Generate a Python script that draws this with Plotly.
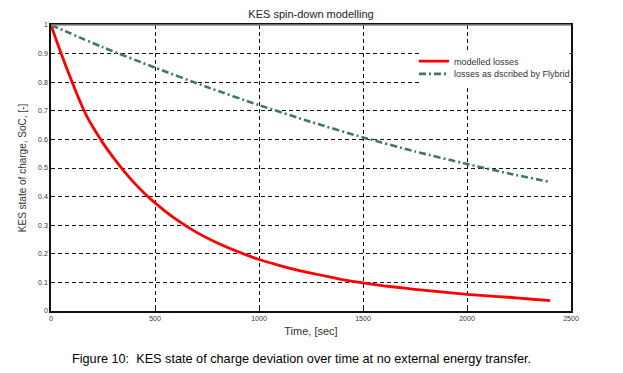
import plotly.graph_objects as go

# Data
t_model = [0, 25, 50, 75, 100, 125, 150, 175, 200, 250, 300, 350, 400, 450, 500, 600, 700, 800, 900,
           1000, 1100, 1200, 1300, 1400, 1500, 1600, 1700, 1800, 1900, 2000, 2100, 2200, 2300, 2400]
soc_model = [1.0, 0.948, 0.898, 0.850, 0.803, 0.758, 0.715, 0.677, 0.645, 0.587, 0.536, 0.490, 0.448,
             0.411, 0.378, 0.321, 0.275, 0.238, 0.207, 0.180, 0.159, 0.140, 0.125, 0.110, 0.098,
             0.088, 0.080, 0.072, 0.065, 0.058, 0.053, 0.048, 0.042, 0.036]

t_flybrid = [0, 250, 500, 750, 1000, 1250, 1500, 1750, 2000, 2200, 2400]
soc_flybrid = [1.0, 0.922, 0.851, 0.783, 0.72, 0.661, 0.607, 0.558, 0.514, 0.481, 0.451]

x_ticks = [0, 500, 1000, 1500, 2000, 2500]
y_ticks = [0, 0.1, 0.2, 0.3, 0.4, 0.5, 0.6, 0.7, 0.8, 0.9, 1]
y_tick_labels = ["0", "0.1", "0.2", "0.3", "0.4", "0.5", "0.6", "0.7", "0.8", "0.9", "1"]

title = "KES spin-down modelling"
x_label = "Time, [sec]"
y_label = "KES state of charge, SoC, [-]"
caption = "Figure 10:  KES state of charge deviation over time at no external energy transfer."

font_main = "Liberation Sans, Arial, sans-serif"

fig = go.Figure()
fig.add_trace(go.Scatter(
    x=t_model, y=soc_model, mode="lines", name="modelled losses", legend="legend",
    line=dict(color="#ff0000", width=2.8, shape="spline", smoothing=0.3),
))
fig.add_trace(go.Scatter(
    x=t_flybrid, y=soc_flybrid, mode="lines", name="losses as dscribed by Flybrid", legend="legend2",
    line=dict(color="#3f7a5c", width=2.6, dash="7px,3px,2px,3px", shape="spline", smoothing=0.6),
))

legend_common = dict(
    xanchor="left", yanchor="middle", bgcolor="rgba(0,0,0,0)", borderwidth=0,
    font=dict(size=9, color="#333", family=font_main), itemwidth=30,
)

# The page body adds an 8px offset, so the figure is sized/margined to compensate.
fig.update_layout(
    width=615, height=365,
    margin=dict(l=43, r=52, t=17, b=62, autoexpand=False),
    paper_bgcolor="white", plot_bgcolor="white",
    font=dict(family=font_main, color="#222"),
    showlegend=True,
    legend=dict(x=0.698, y=0.874, **legend_common),
    legend2=dict(x=0.698, y=0.829, **legend_common),
    xaxis=dict(
        range=[0, 2500], tickvals=x_ticks, ticktext=[str(v) for v in x_ticks],
        showgrid=True, gridcolor="#111", gridwidth=1, griddash="4px,3px",
        zeroline=False, showline=True, linecolor="#111", linewidth=1.5, mirror=True,
        ticks="inside", ticklen=3, tickcolor="#111",
        tickfont=dict(size=7, color="#333"),
        title=dict(text=x_label, font=dict(size=11, color="#333"), standoff=6),
    ),
    yaxis=dict(
        range=[0, 1], tickvals=y_ticks, ticktext=y_tick_labels,
        showgrid=True, gridcolor="#111", gridwidth=1, griddash="4px,3px",
        zeroline=False, showline=True, linecolor="#111", linewidth=1.5, mirror=True,
        ticks="inside", ticklen=3, tickcolor="#111",
        tickfont=dict(size=7, color="#333"),
        title=dict(text=y_label, font=dict(size=10, color="#333"), standoff=10),
    ),
    title=dict(text=title, x=0.5, xref="paper", xanchor="center",
               y=1 - 2 / 365, yref="container", yanchor="top", pad=dict(t=0, b=0),
               font=dict(size=11, color="#222")),
)

# grey top border like the reference
fig.add_shape(type="line", xref="paper", yref="paper", x0=0, x1=1, y0=1, y1=1,
              line=dict(color="#888", width=1.5))

# white legend background masking the grid behind the legend entries
fig.add_shape(type="rect", xref="paper", yref="paper", x0=0.7096, x1=0.997, y0=0.790, y1=0.9056,
              fillcolor="white", line=dict(width=0), layer="above")

fig.add_annotation(
    text=caption, xref="paper", yref="paper",
    x=0.481, y=-0.168, xanchor="center", yanchor="middle",
    showarrow=False, font=dict(size=12.7, color="#000", family=font_main),
)

fig.write_html("out.html")
